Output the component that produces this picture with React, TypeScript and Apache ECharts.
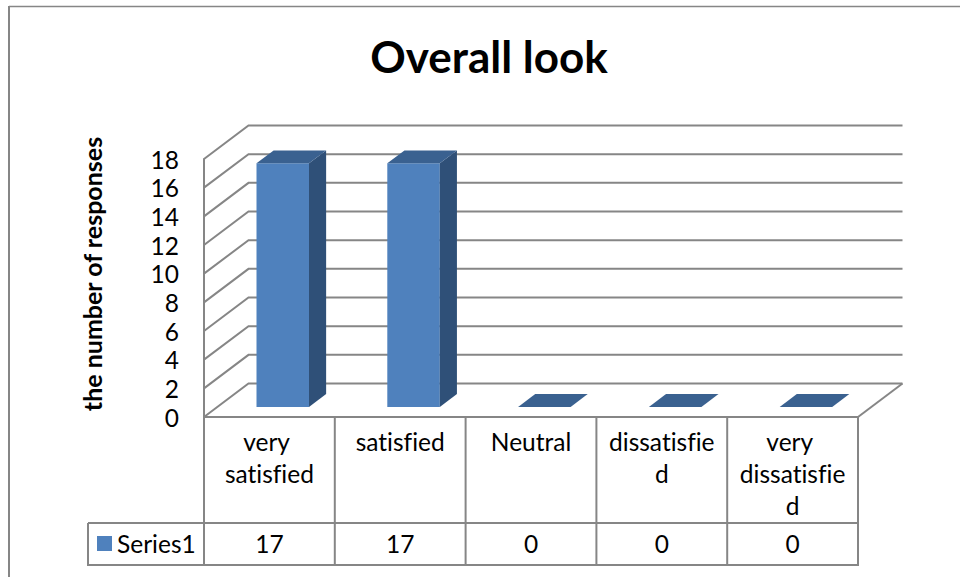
import React, { useEffect, useRef } from "react";
import * as echarts from "echarts";

const titleText = "Overall look";
const yAxisName = "the number of responses";
const seriesName = "Series1";
const categories = ["very satisfied", "satisfied", "Neutral", "dissatisfied", "very dissatisfied"];
const values = [17, 17, 0, 0, 0];
const yTicks = [0, 2, 4, 6, 8, 10, 12, 14, 16, 18];

const FONT = "Lato, 'Open Sans', sans-serif";
const GRID = { left: 204, top: 159, width: 654, height: 258 };
const WALL = { dx: 44.5, dy: -33.5 };
const BAR_BASE = 0.3;
const BAR_DEPTH = 0.385;
const LINE = "#868686";
const TABLE = { left: 88, rowTop: 523, bottom: 565 };
const LABEL_SIZE = 24.5;

export default function App() {
  const ref = useRef<HTMLDivElement>(null);
  useEffect(() => {
    document.body.style.margin = "0";
    const chart = echarts.init(ref.current!, undefined, { renderer: "svg" });
    const right = GRID.left + GRID.width;
    const bottom = GRID.top + GRID.height;
    const cellW = GRID.width / categories.length;
    const lineStyle = { stroke: LINE, lineWidth: 2 };
    const tableLines: any[] = [
      { type: "line", shape: { x1: TABLE.left, y1: TABLE.rowTop, x2: right, y2: TABLE.rowTop }, style: lineStyle },
      { type: "line", shape: { x1: TABLE.left - 1, y1: TABLE.bottom, x2: right + 1, y2: TABLE.bottom }, style: lineStyle },
      { type: "line", shape: { x1: TABLE.left, y1: TABLE.rowTop, x2: TABLE.left, y2: TABLE.bottom }, style: lineStyle },
    ];
    for (let i = 0; i <= categories.length; i++) {
      const x = GRID.left + i * cellW;
      tableLines.push({ type: "line", shape: { x1: x, y1: bottom, x2: x, y2: TABLE.bottom }, style: lineStyle });
    }
    chart.setOption({
      animation: false,
      backgroundColor: "#ffffff",
      title: {
        text: titleText,
        left: 484,
        top: 29,
        textAlign: "center",
        textStyle: { fontFamily: FONT, fontWeight: "bold", fontSize: 44, color: "#000000" },
      },
      legend: {
        data: [{ name: seriesName, icon: "rect" }],
        left: 97,
        top: 531,
        padding: 0,
        itemWidth: 15,
        itemHeight: 15,
        itemGap: 6,
        textStyle: { fontFamily: FONT, fontSize: LABEL_SIZE, color: "#000000" },
      },
      grid: { ...GRID },
      xAxis: {
        type: "category",
        data: categories,
        axisTick: { show: false },
        axisLine: { show: true, lineStyle: { color: LINE, width: 2 } },
        axisLabel: {
          fontFamily: FONT,
          fontSize: LABEL_SIZE,
          color: "#000000",
          margin: 8,
          lineHeight: 32,
          width: 116,
          overflow: "break",
          interval: 0,
          verticalAlign: "top",
        },
      },
      yAxis: {
        type: "value",
        min: 0,
        max: 18,
        interval: 2,
        name: yAxisName,
        nameLocation: "middle",
        nameGap: 100,
        nameRotate: 90,
        nameTextStyle: {
          fontFamily: FONT,
          fontWeight: "bold",
          fontSize: 25,
          color: "#000000",
          padding: [0, 0, 0, 28],
        },
        splitLine: { show: false },
        axisTick: { show: false },
        axisLine: { show: true, lineStyle: { color: LINE, width: 2 } },
        axisLabel: { fontFamily: FONT, fontSize: LABEL_SIZE, color: "#000000", margin: 25, padding: [0, 0, 5, 0] },
      },
      series: [
        {
          type: "custom",
          name: "walls",
          silent: true,
          clip: false,
          data: yTicks,
          encode: { y: 0 },
          renderItem: (params: any, api: any) => {
            const p = api.coord([0, api.value(0)]);
            const sys = params.coordSys;
            const x0 = sys.x;
            const x1 = sys.x + sys.width;
            const y = p[1];
            const children: any[] = [
              {
                type: "polyline",
                shape: { points: [[x0, y], [x0 + WALL.dx, y + WALL.dy], [x1 + WALL.dx, y + WALL.dy]] },
                style: { stroke: LINE, lineWidth: 2, fill: "none" },
              },
            ];
            if (api.value(0) === 0) {
              children.push({
                type: "line",
                shape: { x1, y1: y, x2: x1 + WALL.dx, y2: y + WALL.dy },
                style: { stroke: LINE, lineWidth: 2 },
              });
            }
            return { type: "group", children };
          },
        },
        {
          type: "custom",
          name: seriesName,
          clip: false,
          itemStyle: { color: "#4F81BD" },
          data: values.map((v, i) => [i, v]),
          encode: { x: 0, y: 1 },
          renderItem: (params: any, api: any) => {
            const idx = api.value(0);
            const val = api.value(1);
            const base = api.coord([idx, 0]);
            const top = api.coord([idx, val]);
            const w = 52.5;
            const bx = WALL.dx * BAR_BASE;
            const by = WALL.dy * BAR_BASE;
            const ddx = WALL.dx * BAR_DEPTH;
            const ddy = WALL.dy * BAR_DEPTH;
            const l = base[0] - w / 2 + bx;
            const r = l + w;
            const yb = base[1] + by;
            const yt = top[1] + by;
            const children: any[] = [];
            if (val > 0) {
              children.push({
                type: "rect",
                shape: { x: l, y: yt, width: w, height: yb - yt },
                style: { fill: "#4F81BD" },
              });
              children.push({
                type: "polygon",
                shape: { points: [[r, yt], [r + ddx, yt + ddy], [r + ddx, yb + ddy], [r, yb]] },
                style: { fill: "#2F5078" },
              });
            }
            children.push({
              type: "polygon",
              shape: { points: [[l, yt], [r, yt], [r + ddx, yt + ddy], [l + ddx, yt + ddy]] },
              style: { fill: "#3A6190" },
            });
            children.push({
              type: "text",
              style: {
                text: String(val),
                x: base[0],
                y: 543,
                align: "center",
                verticalAlign: "middle",
                fontFamily: FONT,
                fontSize: LABEL_SIZE,
                fill: "#000000",
              },
            });
            return { type: "group", children };
          },
        },
      ],
      graphic: [
        { type: "line", shape: { x1: 9, y1: 6.5, x2: 960, y2: 6.5 }, style: { stroke: LINE, lineWidth: 1.5 } },
        { type: "line", shape: { x1: 9, y1: 6, x2: 9, y2: 577 }, style: { stroke: LINE, lineWidth: 2 } },
        ...tableLines,
      ],
    });
    return () => chart.dispose();
  }, []);
  return (
    <>
      <style>{"text { font-variant-ligatures: none; font-feature-settings: 'liga' 0; }"}</style>
      <div ref={ref} style={{ position: "absolute", left: 0, top: 0, width: 960, height: 577 }} />
    </>
  );
}
